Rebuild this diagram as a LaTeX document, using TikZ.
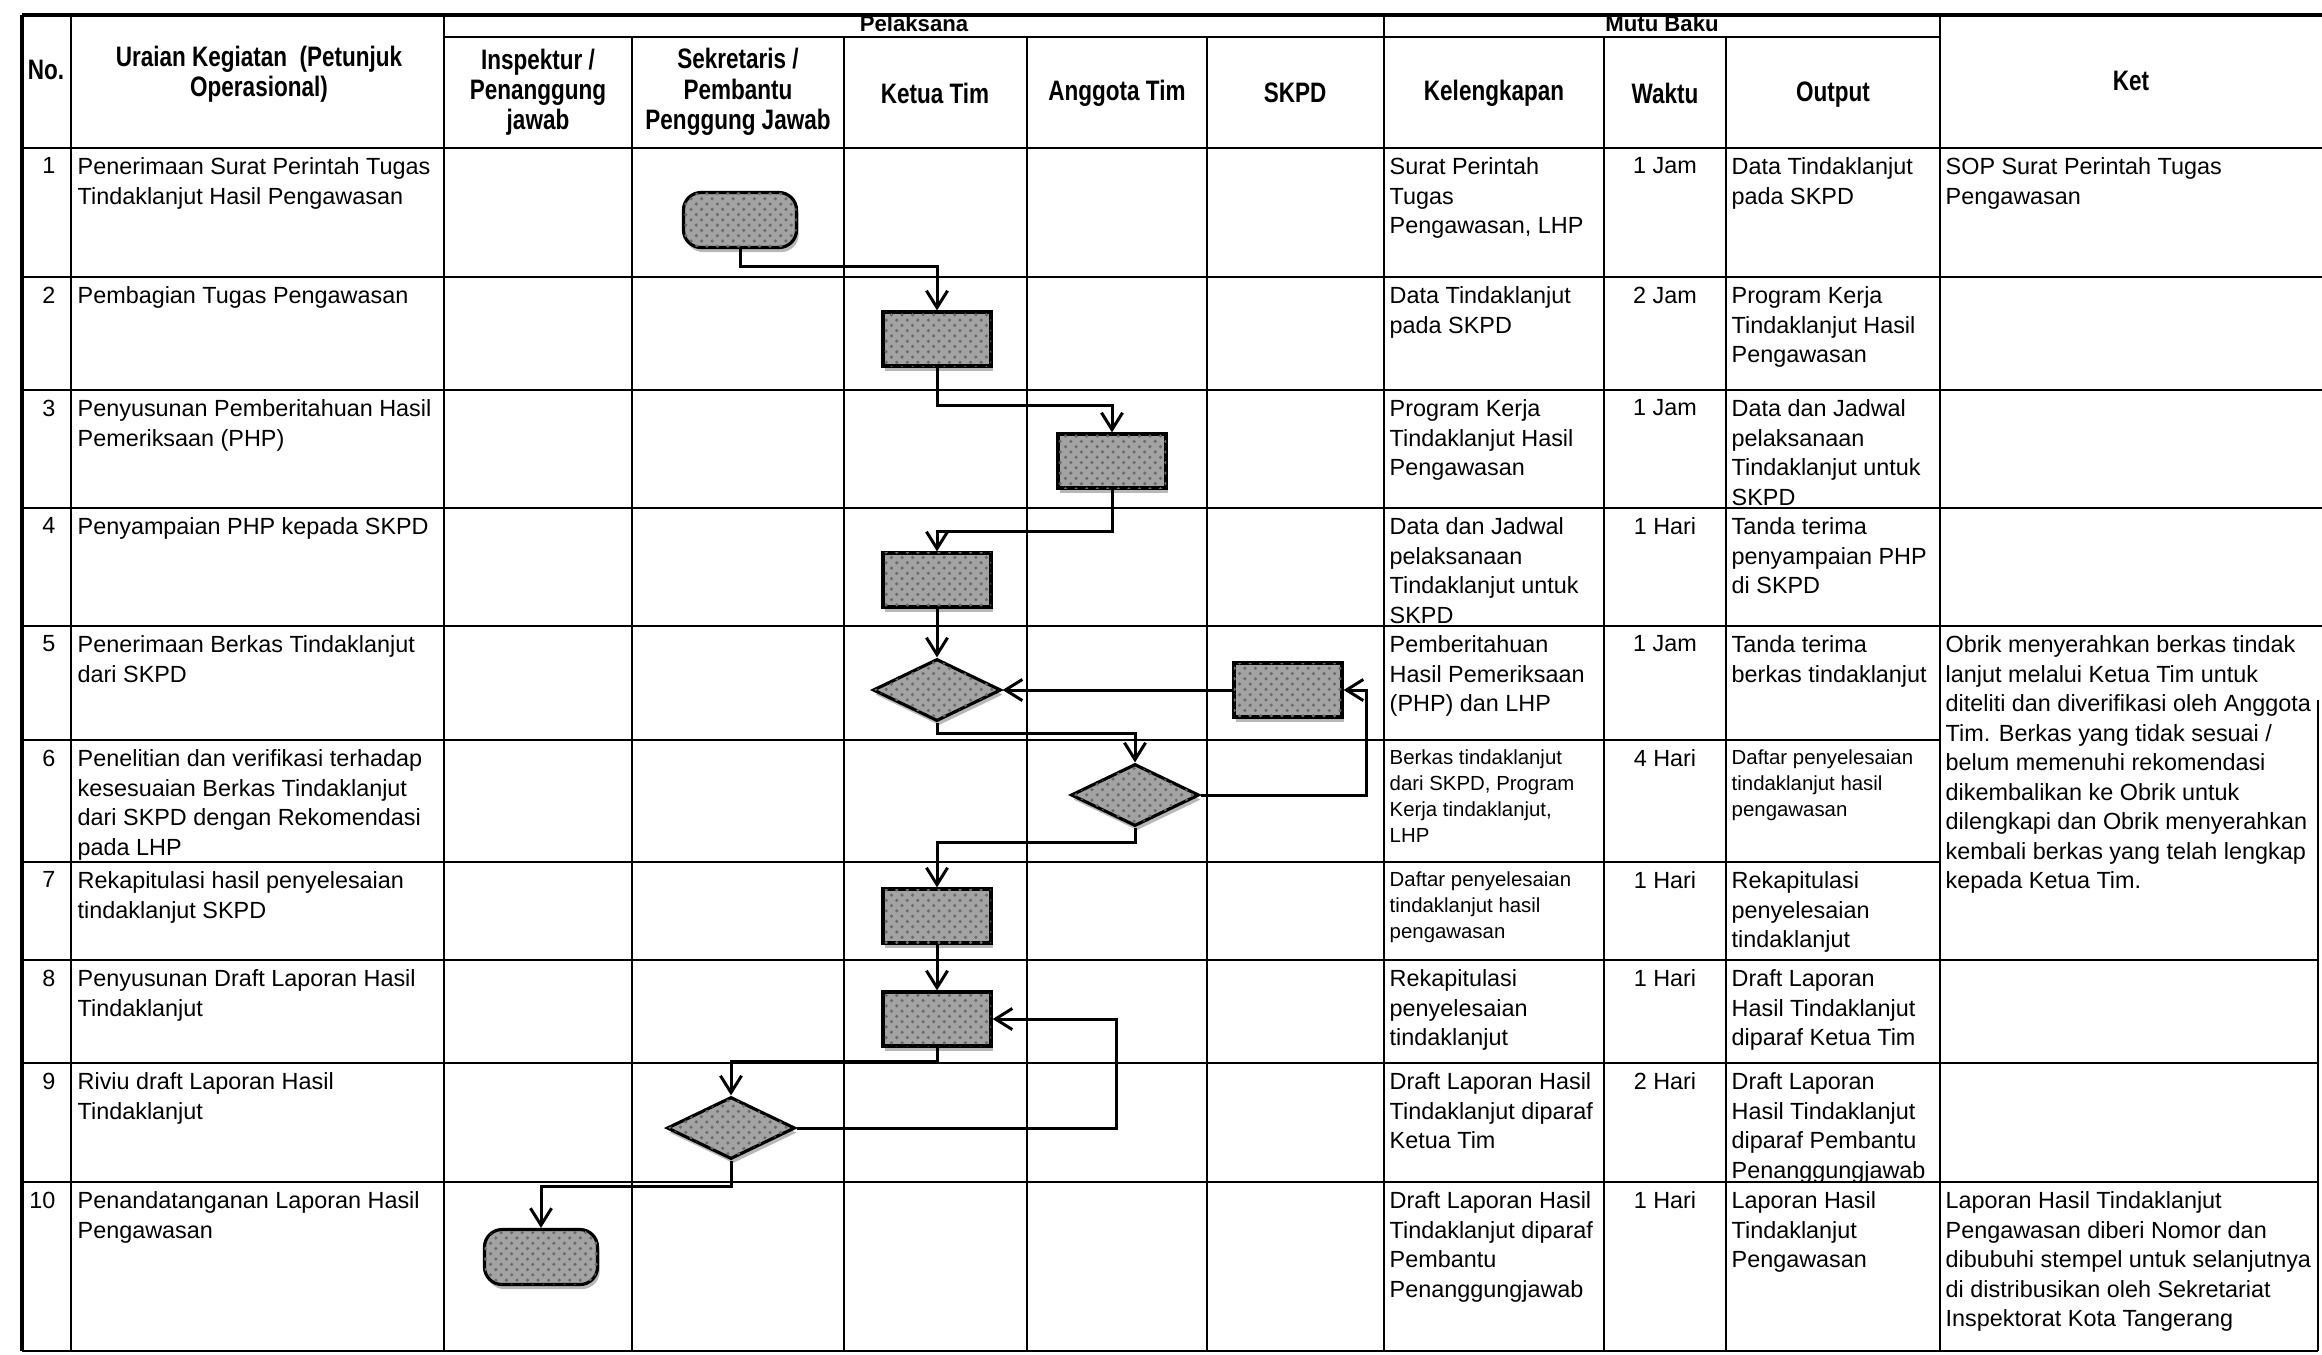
\documentclass[tikz,border=0pt]{standalone}
\usepackage{fontspec}
\setmainfont{Liberation Sans}
\newfontfamily\narrowsans[FakeStretch=0.8]{Liberation Sans}
\usetikzlibrary{arrows.meta,shapes.geometric,shadows,patterns}
\begin{document}
\begin{tikzpicture}[x=0.01cm,y=-0.01cm,
  grid/.style={line width=0.6pt},
  hdr/.style={font=\narrowsans\bfseries\fontsize{8}{8.6}\selectfont, align=center, inner sep=0pt},
  band/.style={font=\bfseries\fontsize{6.3}{7}\selectfont, anchor=base, inner sep=0pt},
  body/.style={anchor=north west, inner sep=0pt, align=left, font=\fontsize{6.65}{8.4}\selectfont},
  smallbody/.style={anchor=north west, inner sep=0pt, align=left, font=\fontsize{5.8}{7.4}\selectfont},
  num/.style={anchor=north east, inner sep=0pt, font=\fontsize{6.65}{8.4}\selectfont},
  wkt/.style={anchor=north, inner sep=0pt, font=\fontsize{6.65}{8.4}\selectfont},
  shp/.style={draw, line width=0.9pt, fill=black!36, inner sep=0pt,
    postaction={pattern=crosshatch dots, pattern color=black!58},
    drop shadow={shadow xshift=0.6pt, shadow yshift=-1.3pt, fill=black!28, opacity=1}},
  proc/.style={shp, rectangle, minimum width=1.08cm, minimum height=0.54cm},
  term/.style={shp, rectangle, rounded corners=5pt, minimum width=1.13cm, minimum height=0.55cm},
  dec/.style={shp, diamond, minimum width=1.28cm, minimum height=0.62cm},
  flow/.style={line width=0.85pt, -{Straight Barb[length=4.8pt,width=6pt,line width=0.85pt]}}
]
\useasboundingbox (0,0) rectangle (2322,1354);

% ---------- table grid ----------
\draw[line width=1pt] (22,15) -- (22,1351);
\foreach \c in {71,444,1384,1940} \draw[grid] (\c,15) -- (\c,1351);
\foreach \c in {632,844,1027,1207,1604,1726} \draw[grid] (\c,37) -- (\c,1351);
\draw[grid] (2318,700) -- (2318,1351);
\draw[line width=0.9pt] (22,15) -- (2322,15);
\draw[grid] (444,37) -- (1940,37);
\draw[grid] (22,148) -- (2322,148);
\foreach \r in {277,390,508,626} \draw[grid] (22,\r) -- (2322,\r);
\foreach \r in {740,862} \draw[grid] (22,\r) -- (1940,\r);
\foreach \r in {960,1063,1182} \draw[grid] (22,\r) -- (2318,\r);
\draw[grid] (22,1351) -- (2318,1351);

% ---------- header ----------
\node[hdr] (hno) at (46,70) {No.};
\node[hdr] (hur) at (259,74) {Uraian Kegiatan \ (Petunjuk\\Operasional)};
\node[band] (hpel) at (914,31) {Pelaksana};
\node[band] (hmutu) at (1662,31) {Mutu Baku};
\node[hdr] (hins) at (538,92) {Inspektur /\\Penanggung\\jawab};
\node[hdr] (hsek) at (738,92) {Sekretaris /\\Pembantu\\Penggung Jawab};
\node[hdr] (hket) at (935,93) {Ketua Tim};
\node[hdr] (hang) at (1117,93) {Anggota Tim};
\node[hdr] (hskpd) at (1295,93) {SKPD};
\node[hdr] (hkel) at (1494,93) {Kelengkapan};
\node[hdr] (hwak) at (1665,93) {Waktu};
\node[hdr] (hout) at (1833,95) {Output};
\node[hdr] (hketr) at (2131,81) {Ket};

% ---------- numbers ----------
\node[num] (n1) at (56,157) {1};
\node[num] (n2) at (56,286) {2};
\node[num] (n3) at (56,399) {3};
\node[num] (n4) at (56,517) {4};
\node[num] (n5) at (56,635) {5};
\node[num] (n6) at (56,749) {6};
\node[num] (n7) at (56,871) {7};
\node[num] (n8) at (56,969) {8};
\node[num] (n9) at (56,1072) {9};
\node[num] (n10) at (56,1191) {10};

% ---------- uraian ----------
\node[body] (u1) at (77,157) {Penerimaan Surat Perintah Tugas\\Tindaklanjut Hasil Pengawasan};
\node[body] (u2) at (77,286) {Pembagian Tugas Pengawasan};
\node[body] (u3) at (77,399) {Penyusunan Pemberitahuan Hasil\\Pemeriksaan (PHP)};
\node[body] (u4) at (77,517) {Penyampaian PHP kepada SKPD};
\node[body] (u5) at (77,635) {Penerimaan Berkas Tindaklanjut\\dari SKPD};
\node[body] (u6) at (77,749) {Penelitian dan verifikasi terhadap\\kesesuaian Berkas Tindaklanjut\\dari SKPD dengan Rekomendasi\\pada LHP};
\node[body] (u7) at (77,871) {Rekapitulasi hasil penyelesaian\\tindaklanjut SKPD};
\node[body] (u8) at (77,969) {Penyusunan Draft Laporan Hasil\\Tindaklanjut};
\node[body] (u9) at (77,1072) {Riviu draft Laporan Hasil\\Tindaklanjut};
\node[body] (u10) at (77,1191) {Penandatanganan Laporan Hasil\\Pengawasan};

% ---------- kelengkapan ----------
\node[body] (k1) at (1389,157) {Surat Perintah\\Tugas\\Pengawasan, LHP};
\node[body] (k2) at (1389,286) {Data Tindaklanjut\\pada SKPD};
\node[body] (k3) at (1389,399) {Program Kerja\\Tindaklanjut Hasil\\Pengawasan};
\node[body] (k4) at (1389,517) {Data dan Jadwal\\pelaksanaan\\Tindaklanjut untuk\\SKPD};
\node[body] (k5) at (1389,635) {Pemberitahuan\\Hasil Pemeriksaan\\(PHP) dan LHP};
\node[smallbody] (k6) at (1389,749) {Berkas tindaklanjut\\dari SKPD, Program\\Kerja tindaklanjut,\\LHP};
\node[smallbody] (k7) at (1389,871) {Daftar penyelesaian\\tindaklanjut hasil\\pengawasan};
\node[body] (k8) at (1389,969) {Rekapitulasi\\penyelesaian\\tindaklanjut};
\node[body] (k9) at (1389,1072) {Draft Laporan Hasil\\Tindaklanjut diparaf\\Ketua Tim};
\node[body] (k10) at (1389,1191) {Draft Laporan Hasil\\Tindaklanjut diparaf\\Pembantu\\Penanggungjawab};

% ---------- waktu ----------
\node[wkt] (w1) at (1665,157) {1 Jam};
\node[wkt] (w2) at (1665,286) {2 Jam};
\node[wkt] (w3) at (1665,399) {1 Jam};
\node[wkt] (w4) at (1665,517) {1 Hari};
\node[wkt] (w5) at (1665,635) {1 Jam};
\node[wkt] (w6) at (1665,749) {4 Hari};
\node[wkt] (w7) at (1665,871) {1 Hari};
\node[wkt] (w8) at (1665,969) {1 Hari};
\node[wkt] (w9) at (1665,1072) {2 Hari};
\node[wkt] (w10) at (1665,1191) {1 Hari};

% ---------- output ----------
\node[body] (o1) at (1731,157) {Data Tindaklanjut\\pada SKPD};
\node[body] (o2) at (1731,286) {Program Kerja\\Tindaklanjut Hasil\\Pengawasan};
\node[body] (o3) at (1731,399) {Data dan Jadwal\\pelaksanaan\\Tindaklanjut untuk\\SKPD};
\node[body] (o4) at (1731,517) {Tanda terima\\penyampaian PHP\\di SKPD};
\node[body] (o5) at (1731,635) {Tanda terima\\berkas tindaklanjut};
\node[smallbody] (o6) at (1731,749) {Daftar penyelesaian\\tindaklanjut hasil\\pengawasan};
\node[body] (o7) at (1731,871) {Rekapitulasi\\penyelesaian\\tindaklanjut};
\node[body] (o8) at (1731,969) {Draft Laporan\\Hasil Tindaklanjut\\diparaf Ketua Tim};
\node[body] (o9) at (1731,1072) {Draft Laporan\\Hasil Tindaklanjut\\diparaf Pembantu\\Penanggungjawab};
\node[body] (o10) at (1731,1191) {Laporan Hasil\\Tindaklanjut\\Pengawasan};

% ---------- ket ----------
\node[body] (ket1) at (1945,157) {SOP Surat Perintah Tugas\\Pengawasan};
\node[body] (ket5) at (1945,635) {Obrik menyerahkan berkas tindak\\lanjut melalui Ketua Tim untuk\\diteliti dan diverifikasi oleh Anggota\\Tim. Berkas yang tidak sesuai /\\belum memenuhi rekomendasi\\dikembalikan ke Obrik untuk\\dilengkapi dan Obrik menyerahkan\\kembali berkas yang telah lengkap\\kepada Ketua Tim.};
\node[body] (ket10) at (1945,1191) {Laporan Hasil Tindaklanjut\\Pengawasan diberi Nomor dan\\dibubuhi stempel untuk selanjutnya\\di distribusikan oleh Sekretariat\\Inspektorat Kota Tangerang};

% ---------- flow shapes ----------
\node[term] (t1) at (740,220) {};
\node[proc] (r2) at (937,339) {};
\node[proc] (r3) at (1112,461) {};
\node[proc] (r4) at (937,580) {};
\node[dec] (d5) at (937,690) {};
\node[proc] (s5) at (1288,690) {};
\node[dec] (d6) at (1135,795) {};
\node[proc] (r7) at (937,916) {};
\node[proc] (r8) at (937,1019) {};
\node[dec] (d9) at (731,1128) {};
\node[term] (t10) at (541,1257) {};

% ---------- connectors ----------
\draw[flow] (t1.south) -- ++(0,17) -| (r2.north);
\draw[flow] (r2.south) -- ++(0,38) -| (r3.north);
\draw[flow] (r3.south) -- ++(0,42) -| (r4.north);
\draw[flow] (r4.south) -- (d5.north);
\draw[flow] (s5.west) -- (d5.east);
\draw[flow] (d5.south) -- ++(0,11) -| (d6.north);
\draw[flow] (d6.east) -- ++(166,0) |- (s5.east);
\draw[flow] (d6.south) -- ++(0,15) -| (r7.north);
\draw[flow] (r7.south) -- (r8.north);
\draw[flow] (r8.south) -- ++(0,14) -| (d9.north);
\draw[flow] (d9.east) -- ++(320,0) |- (r8.east);
\draw[flow] (d9.south) -- ++(0,26) -| (t10.north);
\end{tikzpicture}
\end{document}
